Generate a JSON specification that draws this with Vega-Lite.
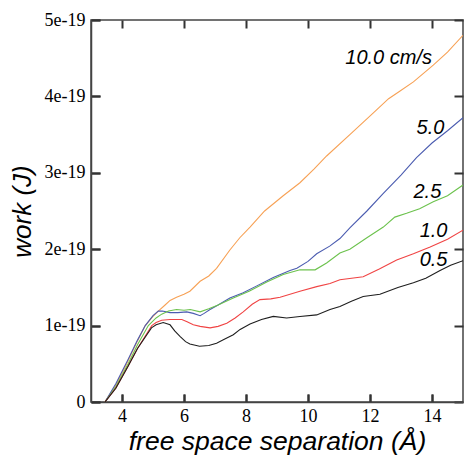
{
  "$schema": "https://vega.github.io/schema/vega-lite/v6.json",
  "width": 372,
  "height": 382,
  "autosize": {"type": "none"},
  "padding": {"left": 91, "top": 20, "right": 1, "bottom": 56},
  "background": "white",
  "datasets": {
    "curves": [
      {"speed": "10.0", "sep": 3.45, "work": 0},
      {"speed": "10.0", "sep": 3.8, "work": 0.22e-19},
      {"speed": "10.0", "sep": 4.15, "work": 0.5e-19},
      {"speed": "10.0", "sep": 4.5, "work": 0.8e-19},
      {"speed": "10.0", "sep": 4.75, "work": 1.0e-19},
      {"speed": "10.0", "sep": 5.0, "work": 1.12e-19},
      {"speed": "10.0", "sep": 5.17, "work": 1.19e-19},
      {"speed": "10.0", "sep": 5.39, "work": 1.27e-19},
      {"speed": "10.0", "sep": 5.55, "work": 1.33e-19},
      {"speed": "10.0", "sep": 5.76, "work": 1.37e-19},
      {"speed": "10.0", "sep": 6.0, "work": 1.41e-19},
      {"speed": "10.0", "sep": 6.19, "work": 1.45e-19},
      {"speed": "10.0", "sep": 6.52, "work": 1.58e-19},
      {"speed": "10.0", "sep": 6.8, "work": 1.65e-19},
      {"speed": "10.0", "sep": 7.05, "work": 1.75e-19},
      {"speed": "10.0", "sep": 7.48, "work": 1.99e-19},
      {"speed": "10.0", "sep": 7.8, "work": 2.15e-19},
      {"speed": "10.0", "sep": 8.13, "work": 2.29e-19},
      {"speed": "10.0", "sep": 8.6, "work": 2.5e-19},
      {"speed": "10.0", "sep": 9.2, "work": 2.7e-19},
      {"speed": "10.0", "sep": 9.74, "work": 2.87e-19},
      {"speed": "10.0", "sep": 10.2, "work": 3.05e-19},
      {"speed": "10.0", "sep": 10.6, "work": 3.22e-19},
      {"speed": "10.0", "sep": 11.35, "work": 3.5e-19},
      {"speed": "10.0", "sep": 12.1, "work": 3.78e-19},
      {"speed": "10.0", "sep": 12.6, "work": 3.97e-19},
      {"speed": "10.0", "sep": 12.97, "work": 4.07e-19},
      {"speed": "10.0", "sep": 13.4, "work": 4.19e-19},
      {"speed": "10.0", "sep": 14.04, "work": 4.41e-19},
      {"speed": "10.0", "sep": 14.5, "work": 4.58e-19},
      {"speed": "10.0", "sep": 15.0, "work": 4.8e-19},

      {"speed": "5.0", "sep": 3.45, "work": 0},
      {"speed": "5.0", "sep": 3.8, "work": 0.24e-19},
      {"speed": "5.0", "sep": 4.2, "work": 0.56e-19},
      {"speed": "5.0", "sep": 4.5, "work": 0.81e-19},
      {"speed": "5.0", "sep": 4.75, "work": 1.0e-19},
      {"speed": "5.0", "sep": 5.0, "work": 1.13e-19},
      {"speed": "5.0", "sep": 5.17, "work": 1.19e-19},
      {"speed": "5.0", "sep": 5.3, "work": 1.19e-19},
      {"speed": "5.0", "sep": 5.55, "work": 1.17e-19},
      {"speed": "5.0", "sep": 5.8, "work": 1.17e-19},
      {"speed": "5.0", "sep": 6.09, "work": 1.18e-19},
      {"speed": "5.0", "sep": 6.3, "work": 1.16e-19},
      {"speed": "5.0", "sep": 6.52, "work": 1.13e-19},
      {"speed": "5.0", "sep": 6.65, "work": 1.16e-19},
      {"speed": "5.0", "sep": 6.84, "work": 1.21e-19},
      {"speed": "5.0", "sep": 7.1, "work": 1.27e-19},
      {"speed": "5.0", "sep": 7.48, "work": 1.36e-19},
      {"speed": "5.0", "sep": 7.91, "work": 1.43e-19},
      {"speed": "5.0", "sep": 8.35, "work": 1.52e-19},
      {"speed": "5.0", "sep": 8.88, "work": 1.63e-19},
      {"speed": "5.0", "sep": 9.42, "work": 1.72e-19},
      {"speed": "5.0", "sep": 9.64, "work": 1.75e-19},
      {"speed": "5.0", "sep": 10.0, "work": 1.84e-19},
      {"speed": "5.0", "sep": 10.28, "work": 1.94e-19},
      {"speed": "5.0", "sep": 10.7, "work": 2.04e-19},
      {"speed": "5.0", "sep": 11.03, "work": 2.14e-19},
      {"speed": "5.0", "sep": 11.35, "work": 2.28e-19},
      {"speed": "5.0", "sep": 11.9, "work": 2.5e-19},
      {"speed": "5.0", "sep": 12.43, "work": 2.73e-19},
      {"speed": "5.0", "sep": 13.0, "work": 2.97e-19},
      {"speed": "5.0", "sep": 13.5, "work": 3.2e-19},
      {"speed": "5.0", "sep": 14.0, "work": 3.39e-19},
      {"speed": "5.0", "sep": 14.5, "work": 3.55e-19},
      {"speed": "5.0", "sep": 15.0, "work": 3.72e-19},

      {"speed": "2.5", "sep": 3.45, "work": 0},
      {"speed": "2.5", "sep": 3.8, "work": 0.2e-19},
      {"speed": "2.5", "sep": 4.2, "work": 0.5e-19},
      {"speed": "2.5", "sep": 4.5, "work": 0.75e-19},
      {"speed": "2.5", "sep": 4.85, "work": 1.0e-19},
      {"speed": "2.5", "sep": 5.1, "work": 1.1e-19},
      {"speed": "2.5", "sep": 5.28, "work": 1.15e-19},
      {"speed": "2.5", "sep": 5.5, "work": 1.19e-19},
      {"speed": "2.5", "sep": 5.76, "work": 1.21e-19},
      {"speed": "2.5", "sep": 6.0, "work": 1.2e-19},
      {"speed": "2.5", "sep": 6.2, "work": 1.21e-19},
      {"speed": "2.5", "sep": 6.52, "work": 1.18e-19},
      {"speed": "2.5", "sep": 6.8, "work": 1.22e-19},
      {"speed": "2.5", "sep": 7.1, "work": 1.27e-19},
      {"speed": "2.5", "sep": 7.59, "work": 1.36e-19},
      {"speed": "2.5", "sep": 8.1, "work": 1.45e-19},
      {"speed": "2.5", "sep": 8.67, "work": 1.57e-19},
      {"speed": "2.5", "sep": 9.2, "work": 1.67e-19},
      {"speed": "2.5", "sep": 9.74, "work": 1.73e-19},
      {"speed": "2.5", "sep": 10.0, "work": 1.73e-19},
      {"speed": "2.5", "sep": 10.23, "work": 1.73e-19},
      {"speed": "2.5", "sep": 10.6, "work": 1.82e-19},
      {"speed": "2.5", "sep": 11.03, "work": 1.95e-19},
      {"speed": "2.5", "sep": 11.35, "work": 2.0e-19},
      {"speed": "2.5", "sep": 11.9, "work": 2.15e-19},
      {"speed": "2.5", "sep": 12.43, "work": 2.29e-19},
      {"speed": "2.5", "sep": 12.8, "work": 2.42e-19},
      {"speed": "2.5", "sep": 13.18, "work": 2.47e-19},
      {"speed": "2.5", "sep": 13.6, "work": 2.53e-19},
      {"speed": "2.5", "sep": 14.04, "work": 2.62e-19},
      {"speed": "2.5", "sep": 14.5, "work": 2.7e-19},
      {"speed": "2.5", "sep": 15.0, "work": 2.84e-19},

      {"speed": "1.0", "sep": 3.45, "work": 0},
      {"speed": "1.0", "sep": 3.8, "work": 0.18e-19},
      {"speed": "1.0", "sep": 4.2, "work": 0.47e-19},
      {"speed": "1.0", "sep": 4.5, "work": 0.7e-19},
      {"speed": "1.0", "sep": 4.96, "work": 1.0e-19},
      {"speed": "1.0", "sep": 5.1, "work": 1.04e-19},
      {"speed": "1.0", "sep": 5.28, "work": 1.07e-19},
      {"speed": "1.0", "sep": 5.55, "work": 1.08e-19},
      {"speed": "1.0", "sep": 5.93, "work": 1.08e-19},
      {"speed": "1.0", "sep": 6.1, "work": 1.05e-19},
      {"speed": "1.0", "sep": 6.3, "work": 1.01e-19},
      {"speed": "1.0", "sep": 6.52, "work": 0.99e-19},
      {"speed": "1.0", "sep": 6.84, "work": 0.97e-19},
      {"speed": "1.0", "sep": 7.1, "work": 0.99e-19},
      {"speed": "1.0", "sep": 7.38, "work": 1.03e-19},
      {"speed": "1.0", "sep": 7.65, "work": 1.1e-19},
      {"speed": "1.0", "sep": 7.91, "work": 1.18e-19},
      {"speed": "1.0", "sep": 8.2, "work": 1.28e-19},
      {"speed": "1.0", "sep": 8.45, "work": 1.34e-19},
      {"speed": "1.0", "sep": 8.8, "work": 1.35e-19},
      {"speed": "1.0", "sep": 9.1, "work": 1.37e-19},
      {"speed": "1.0", "sep": 9.74, "work": 1.45e-19},
      {"speed": "1.0", "sep": 10.28, "work": 1.51e-19},
      {"speed": "1.0", "sep": 10.71, "work": 1.55e-19},
      {"speed": "1.0", "sep": 11.03, "work": 1.6e-19},
      {"speed": "1.0", "sep": 11.78, "work": 1.64e-19},
      {"speed": "1.0", "sep": 12.3, "work": 1.74e-19},
      {"speed": "1.0", "sep": 12.86, "work": 1.86e-19},
      {"speed": "1.0", "sep": 13.4, "work": 1.94e-19},
      {"speed": "1.0", "sep": 13.94, "work": 2.03e-19},
      {"speed": "1.0", "sep": 14.5, "work": 2.13e-19},
      {"speed": "1.0", "sep": 15.0, "work": 2.25e-19},

      {"speed": "0.5", "sep": 3.45, "work": 0},
      {"speed": "0.5", "sep": 3.8, "work": 0.18e-19},
      {"speed": "0.5", "sep": 4.2, "work": 0.47e-19},
      {"speed": "0.5", "sep": 4.5, "work": 0.7e-19},
      {"speed": "0.5", "sep": 4.95, "work": 0.97e-19},
      {"speed": "0.5", "sep": 5.1, "work": 1.01e-19},
      {"speed": "0.5", "sep": 5.33, "work": 1.04e-19},
      {"speed": "0.5", "sep": 5.55, "work": 1.01e-19},
      {"speed": "0.5", "sep": 5.7, "work": 0.93e-19},
      {"speed": "0.5", "sep": 5.87, "work": 0.86e-19},
      {"speed": "0.5", "sep": 6.05, "work": 0.79e-19},
      {"speed": "0.5", "sep": 6.19, "work": 0.76e-19},
      {"speed": "0.5", "sep": 6.5, "work": 0.73e-19},
      {"speed": "0.5", "sep": 6.8, "work": 0.74e-19},
      {"speed": "0.5", "sep": 7.05, "work": 0.77e-19},
      {"speed": "0.5", "sep": 7.3, "work": 0.82e-19},
      {"speed": "0.5", "sep": 7.59, "work": 0.88e-19},
      {"speed": "0.5", "sep": 7.81, "work": 0.95e-19},
      {"speed": "0.5", "sep": 8.13, "work": 1.02e-19},
      {"speed": "0.5", "sep": 8.5, "work": 1.08e-19},
      {"speed": "0.5", "sep": 8.88, "work": 1.12e-19},
      {"speed": "0.5", "sep": 9.31, "work": 1.1e-19},
      {"speed": "0.5", "sep": 9.74, "work": 1.12e-19},
      {"speed": "0.5", "sep": 10.28, "work": 1.14e-19},
      {"speed": "0.5", "sep": 10.71, "work": 1.21e-19},
      {"speed": "0.5", "sep": 11.03, "work": 1.25e-19},
      {"speed": "0.5", "sep": 11.4, "work": 1.32e-19},
      {"speed": "0.5", "sep": 11.78, "work": 1.38e-19},
      {"speed": "0.5", "sep": 12.32, "work": 1.41e-19},
      {"speed": "0.5", "sep": 12.9, "work": 1.5e-19},
      {"speed": "0.5", "sep": 13.4, "work": 1.56e-19},
      {"speed": "0.5", "sep": 13.8, "work": 1.62e-19},
      {"speed": "0.5", "sep": 14.26, "work": 1.72e-19},
      {"speed": "0.5", "sep": 14.6, "work": 1.79e-19},
      {"speed": "0.5", "sep": 15.0, "work": 1.85e-19}
    ],
    "labels": [
      {"label": "10.0 cm/s", "sep": 14.0, "work": 4.5e-19},
      {"label": "5.0", "sep": 14.4, "work": 3.58e-19},
      {"label": "2.5", "sep": 14.3, "work": 2.75e-19},
      {"label": "1.0", "sep": 14.5, "work": 2.24e-19},
      {"label": "0.5", "sep": 14.5, "work": 1.86e-19}
    ]
  },
  "encoding": {
    "x": {
      "field": "sep", "type": "quantitative",
      "scale": {"domain": [3, 15], "nice": false, "zero": false},
      "axis": {
        "title": "free space separation (Å)",
        "titleFont": "Liberation Sans", "titleFontStyle": "italic", "titleFontWeight": "normal",
        "titleFontSize": 26.5, "titleColor": "black",
        "titleBaseline": "alphabetic", "titleY": 47,
        "values": [4, 6, 8, 10, 12, 14],
        "labelExpr": "format(datum.value, 'd')",
        "labelFont": "Liberation Serif", "labelFontSize": 18, "labelColor": "black",
        "labelPadding": 13,
        "tickSize": -8, "tickColor": "#333", "tickWidth": 2,
        "domainColor": "#444", "domainWidth": 1.5,
        "grid": true, "gridColor": "#333", "gridWidth": 2,
        "gridDash": [8, 366, 8, 400]
      }
    },
    "y": {
      "field": "work", "type": "quantitative",
      "scale": {"domain": [0, 5e-19], "nice": false},
      "axis": {
        "title": "work (J)",
        "titleFont": "Liberation Sans", "titleFontStyle": "italic", "titleFontWeight": "normal",
        "titleFontSize": 26, "titleColor": "black",
        "titleBaseline": "alphabetic", "titleX": -61, "titleAngle": -90,
        "values": [0, 1e-19, 2e-19, 3e-19, 4e-19, 5e-19],
        "labelExpr": "round(datum.value*1e19) == 0 ? '0' : round(datum.value*1e19) + 'e-19'",
        "labelFont": "Liberation Serif", "labelFontSize": 18, "labelColor": "black",
        "labelPadding": 15,
        "tickSize": -9, "tickColor": "#333", "tickWidth": 2,
        "domainColor": "#444", "domainWidth": 1.5,
        "grid": true, "gridColor": "#333", "gridWidth": 2,
        "gridDash": [9, 354, 9, 400]
      }
    }
  },
  "layer": [
    {
      "data": {"name": "curves"},
      "mark": {"type": "line", "strokeWidth": 1.1, "clip": true},
      "encoding": {
        "color": {
          "field": "speed", "type": "nominal",
          "scale": {"domain": ["10.0", "5.0", "2.5", "1.0", "0.5"], "range": ["#f7a155", "#4b5cb0", "#6cc24d", "#f04444", "#1e1e1e"]},
          "legend": null
        }
      }
    },
    {
      "data": {"name": "labels"},
      "mark": {"type": "text", "align": "right", "baseline": "middle", "font": "Liberation Sans", "fontStyle": "italic", "fontSize": 20, "color": "black"},
      "encoding": {
        "text": {"field": "label"}
      }
    }
  ],
  "config": {"view": {"stroke": "#444", "strokeWidth": 1.5}}
}
